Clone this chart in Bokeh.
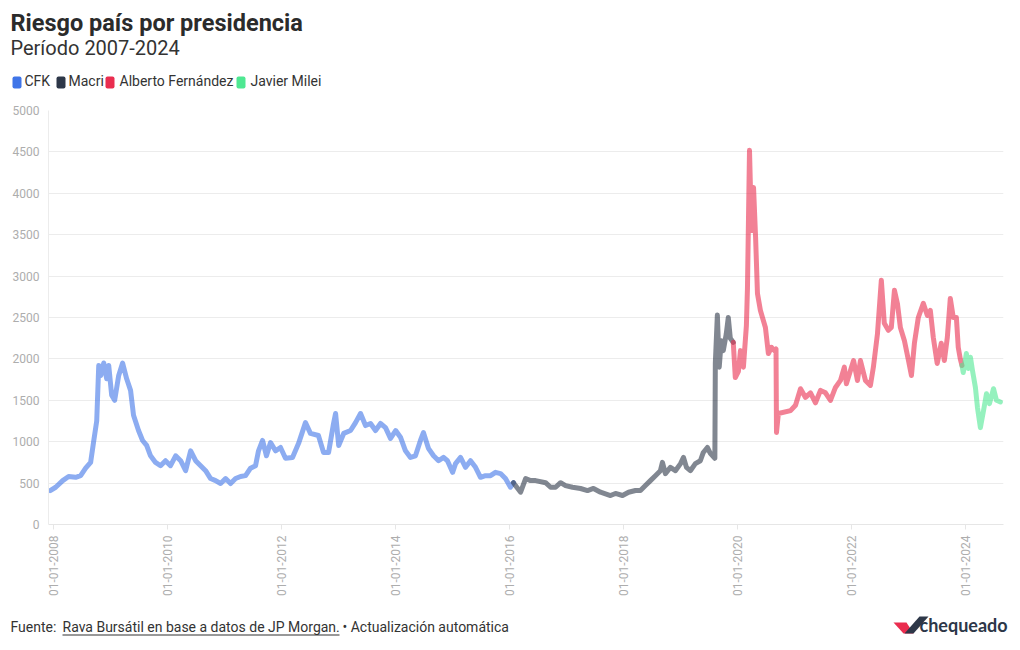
import math
from datetime import datetime
import pandas as pd
from bokeh.plotting import figure
from bokeh.layouts import column
from bokeh.models import (Range1d, FixedTicker, DatetimeTickFormatter, Label,
                          BoxAnnotation, PolyAnnotation, ColumnDataSource)
from bokeh.embed import file_html
from bokeh.resources import INLINE

# ---------------- data ----------------
cfk_dates = ["2007-12-10", "2008-01-14", "2008-02-28", "2008-04-06", "2008-05-21", "2008-06-22",
             "2008-07-24", "2008-08-25", "2008-09-14", "2008-10-03", "2008-10-16", "2008-10-29",
             "2008-11-17", "2008-12-06", "2008-12-19", "2009-01-07", "2009-01-26", "2009-02-21",
             "2009-03-18", "2009-04-13", "2009-05-08", "2009-05-27", "2009-06-28", "2009-07-24",
             "2009-08-19", "2009-09-13", "2009-10-15", "2009-11-16", "2009-12-18", "2010-01-19",
             "2010-02-21", "2010-03-25", "2010-04-26", "2010-05-28", "2010-06-29", "2010-07-31",
             "2010-09-01", "2010-10-03", "2010-11-04", "2010-12-06", "2011-01-07", "2011-02-08",
             "2011-03-12", "2011-04-13", "2011-05-15", "2011-06-16", "2011-07-18", "2011-08-06",
             "2011-09-01", "2011-09-26", "2011-10-22", "2011-11-23", "2011-12-25", "2012-01-26",
             "2012-03-11", "2012-04-19", "2012-06-02", "2012-07-04", "2012-08-24", "2012-09-26",
             "2012-10-28", "2012-11-29", "2012-12-12", "2013-01-01", "2013-02-02", "2013-03-18",
             "2013-04-19", "2013-05-21", "2013-06-22", "2013-07-24", "2013-08-25", "2013-09-26",
             "2013-10-28", "2013-11-29", "2014-01-01", "2014-02-02", "2014-03-05", "2014-04-06",
             "2014-05-08", "2014-06-09", "2014-06-28", "2014-07-30", "2014-09-01", "2014-10-03",
             "2014-11-04", "2014-11-29", "2015-01-01", "2015-01-20", "2015-02-21", "2015-03-25",
             "2015-04-26", "2015-05-28", "2015-06-29", "2015-07-31", "2015-09-01", "2015-10-03",
             "2015-11-04", "2015-12-06", "2016-01-07", "2016-01-26"]
cfk_values = [410, 450, 530, 580, 570, 590,
              680, 750, 1010, 1250, 1920, 1800,
              1950, 1760, 1920, 1560, 1500, 1800,
              1950, 1760, 1620, 1320, 1135, 1015,
              955, 830, 750, 710, 770, 710,
              830, 770, 650, 890, 770, 710,
              650, 555, 530, 495, 555, 495,
              555, 580, 590, 680, 710, 890,
              1015, 830, 990, 890, 930, 800,
              810, 980, 1230, 1100, 1075, 870,
              870, 1220, 1340, 955, 1100, 1135,
              1230, 1340, 1195, 1220, 1135, 1220,
              1170, 1040, 1135, 1050, 890, 810,
              830, 1015, 1110, 920, 830, 770,
              810, 770, 630, 735, 810, 690,
              770, 690, 570, 590, 590, 630,
              615, 555, 450, 505]

macri_dates = ["2016-01-26", "2016-02-08", "2016-03-12", "2016-04-13", "2016-05-15", "2016-06-16",
               "2016-08-19", "2016-09-20", "2016-10-22", "2016-11-23", "2016-12-25", "2017-02-08",
               "2017-03-31", "2017-05-15", "2017-06-22", "2017-08-06", "2017-10-09", "2017-11-10",
               "2017-12-25", "2018-02-02", "2018-03-18", "2018-04-19", "2018-05-21", "2018-06-22",
               "2018-07-24", "2018-08-25", "2018-09-07", "2018-09-26", "2018-10-28", "2018-11-29",
               "2019-01-01", "2019-01-20", "2019-02-08", "2019-03-05", "2019-04-06", "2019-05-08",
               "2019-05-27", "2019-06-22", "2019-07-11", "2019-08-09", "2019-08-12", "2019-08-25",
               "2019-09-06", "2019-09-19", "2019-10-02", "2019-10-21", "2019-11-03", "2019-11-16",
               "2019-12-05"]
macri_values = [505, 470, 390, 555, 530, 530,
                505, 450, 450, 505, 470, 450,
                435, 410, 435, 390, 350, 375,
                350, 390, 410, 410, 470, 530,
                590, 650, 750, 615, 690, 650,
                735, 810, 690, 650, 735, 770,
                870, 930, 860, 800, 1950, 2530,
                1900, 2220, 2100, 2300, 2500, 2250,
                2200]

af_dates = ["2019-12-05", "2019-12-18", "2020-01-07", "2020-01-20", "2020-02-08", "2020-02-27",
            "2020-03-05", "2020-03-18", "2020-03-31", "2020-04-13", "2020-04-26", "2020-05-08",
            "2020-05-27", "2020-06-28", "2020-07-17", "2020-08-06", "2020-08-25", "2020-09-04",
            "2020-09-07", "2020-09-19", "2020-12-06", "2021-01-07", "2021-02-08", "2021-03-12",
            "2021-04-13", "2021-05-15", "2021-06-16", "2021-07-18", "2021-08-19", "2021-09-20",
            "2021-10-22", "2021-11-16", "2021-11-29", "2022-01-14", "2022-02-08", "2022-02-27",
            "2022-03-31", "2022-05-02", "2022-05-21", "2022-06-16", "2022-07-11", "2022-07-30",
            "2022-08-25", "2022-09-13", "2022-10-03", "2022-10-22", "2022-11-10", "2022-12-06",
            "2023-01-01", "2023-01-20", "2023-02-08", "2023-03-05", "2023-04-06", "2023-05-02",
            "2023-05-21", "2023-06-09", "2023-07-04", "2023-07-30", "2023-08-19", "2023-09-07",
            "2023-09-26", "2023-10-15", "2023-11-04", "2023-11-16", "2023-11-29", "2023-12-10"]
af_values = [2200, 1775, 1850, 2100, 1900, 2400,
             2860, 4520, 3550, 4070, 3470, 2790,
             2585, 2380, 2065, 2140, 2100, 2120,
             1110, 1340, 1375, 1440, 1640, 1535,
             1590, 1470, 1620, 1590, 1500, 1655,
             1740, 1900, 1700, 1980, 1740, 1980,
             1740, 1680, 1900, 2300, 2950, 2430,
             2345, 2380, 2830, 2670, 2380, 2220,
             1980, 1800, 2190, 2500, 2670, 2525,
             2585, 2260, 1945, 2190, 1980, 2260,
             2730, 2500, 2500, 2140, 2000, 1920]

milei_dates = ["2023-12-10", "2023-12-18", "2024-01-07", "2024-01-20", "2024-02-02", "2024-02-15",
               "2024-03-05", "2024-03-18", "2024-04-06", "2024-04-26", "2024-05-15", "2024-06-03",
               "2024-06-29", "2024-07-18", "2024-08-12"]
milei_values = [1920, 1835, 2065, 1885, 2020, 1860,
                1655, 1415, 1170, 1375, 1580, 1460,
                1640, 1500, 1480]

series_names = ["CFK", "Macri", "Alberto Fernández", "Javier Milei"]
series_colors = ["#3f75e8", "#2d3748", "#ea2d4f", "#4ee892"]
tick_years = [2008, 2010, 2012, 2014, 2016, 2018, 2020, 2022, 2024]
y_ticks = [0, 500, 1000, 1500, 2000, 2500, 3000, 3500, 4000, 4500, 5000]

FONT = "Roboto"
W = 1016
HEAD_H, MAIN_H, FOOT_H = 100, 510, 36


def blank(h, top):
    """A figure without axes whose data units are page pixels (y grows downward)."""
    f = figure(width=W, height=h, output_backend="svg", toolbar_location=None, title=None,
               x_range=Range1d(0, W), y_range=Range1d(top + h, top),
               min_border_left=0, min_border_right=0, min_border_top=0, min_border_bottom=0,
               frame_align=False)
    f.axis.visible = False
    f.grid.visible = False
    f.outline_line_color = None
    return f


def lab(f, text, x, y, size_px, color="#333333", style="normal", font=FONT):
    # y is the wanted baseline; Bokeh draws the text about 0.4 em lower, so compensate
    f.add_layout(Label(x=x, y=y - 0.4 * size_px, text=text, text_font=font,
                       text_font_size=f"{size_px}px", text_color=color,
                       text_font_style=style, text_baseline="alphabetic", text_align="left"))


# ---------------- header ----------------
head = blank(HEAD_H, 0)
lab(head, "Riesgo país por presidencia", 10, 31.5, 23.5, color="#2b2b2b", style="bold")
lab(head, "Período 2007-2024", 10, 55, 20, color="#333333")
legend_box_x = [12, 56, 105, 236]
legend_text_x = [24, 68, 119, 250]
for name, c, bx, tx in zip(series_names, series_colors, legend_box_x, legend_text_x):
    head.add_layout(BoxAnnotation(left=bx, right=bx + 9, top=76, bottom=88, border_radius=2,
                                  fill_color=c, fill_alpha=1, line_color=None))
    lab(head, name, tx, 86.5, 14)

# ---------------- main chart ----------------
p = figure(width=W, height=MAIN_H, x_axis_type="datetime", output_backend="svg",
           toolbar_location=None, title=None, frame_align=False,
           x_range=Range1d(datetime(2007, 11, 29), datetime(2024, 9, 1)),
           y_range=Range1d(0, 5000),
           min_border_left=48, min_border_right=W - 1003, min_border_top=10,
           min_border_bottom=MAIN_H + HEAD_H - 524)
p.outline_line_color = None

all_series = [(cfk_dates, cfk_values), (macri_dates, macri_values),
              (af_dates, af_values), (milei_dates, milei_values)]
for (d, v), c in zip(all_series, series_colors):
    src = ColumnDataSource(dict(x=pd.to_datetime(d), y=v))
    p.line("x", "y", source=src, line_color=c, line_alpha=0.6, line_width=5,
           line_join="round", line_cap="round")

p.xgrid.grid_line_color = None
p.ygrid.grid_line_color = "#ececec"
p.ygrid.ticker = FixedTicker(ticks=y_ticks)

p.yaxis.ticker = FixedTicker(ticks=y_ticks)
p.yaxis.axis_line_color = "#ececec"
p.yaxis.major_tick_line_color = None
p.yaxis.minor_tick_line_color = None
p.yaxis.major_label_text_color = "#adadad"
p.yaxis.major_label_text_font = FONT
p.yaxis.major_label_text_font_size = "12px"
p.yaxis.major_label_standoff = 3

tick_ms = [datetime(y, 1, 1).timestamp() * 1000 for y in tick_years]
p.xaxis.ticker = FixedTicker(ticks=tick_ms)
p.xaxis.formatter = DatetimeTickFormatter(years="%d-%m-%Y", months="%d-%m-%Y", days="%d-%m-%Y")
p.xaxis.major_label_orientation = math.pi / 2
p.xaxis.axis_line_color = "#e6e6e6"
p.xaxis.major_tick_line_color = "#e6e6e6"
p.xaxis.major_tick_in = 0
p.xaxis.major_tick_out = 5
p.xaxis.minor_tick_line_color = None
p.xaxis.major_label_text_color = "#adadad"
p.xaxis.major_label_text_font = FONT
p.xaxis.major_label_text_font_size = "12px"
p.xaxis.major_label_standoff = 6

# ---------------- footer ----------------
top = HEAD_H + MAIN_H
foot = blank(FOOT_H, top)
lab(foot, "Fuente:", 10, 632, 14)
lab(foot, "Rava Bursátil en base a datos de JP Morgan.", 62, 632, 14)
lab(foot, "• Actualización automática", 342, 632, 14)
foot.add_layout(BoxAnnotation(left=62, right=339, top=634, bottom=635,
                              fill_color="#333333", fill_alpha=1, line_color=None))
foot.add_layout(PolyAnnotation(xs=[893, 906, 913, 903], ys=[622, 622, 633, 633],
                               fill_color="#ea2d4f", fill_alpha=1, line_color=None))
foot.add_layout(PolyAnnotation(xs=[904, 913, 928, 919], ys=[633, 633, 616, 616],
                               fill_color="#2d3748", fill_alpha=1, line_color=None))
lab(foot, "chequeado", 919, 632, 18, color="#2d3748", style="bold", font="Lato")

layout = column(head, p, foot, spacing=0)
open("out.html", "w").write(file_html(layout, INLINE))
